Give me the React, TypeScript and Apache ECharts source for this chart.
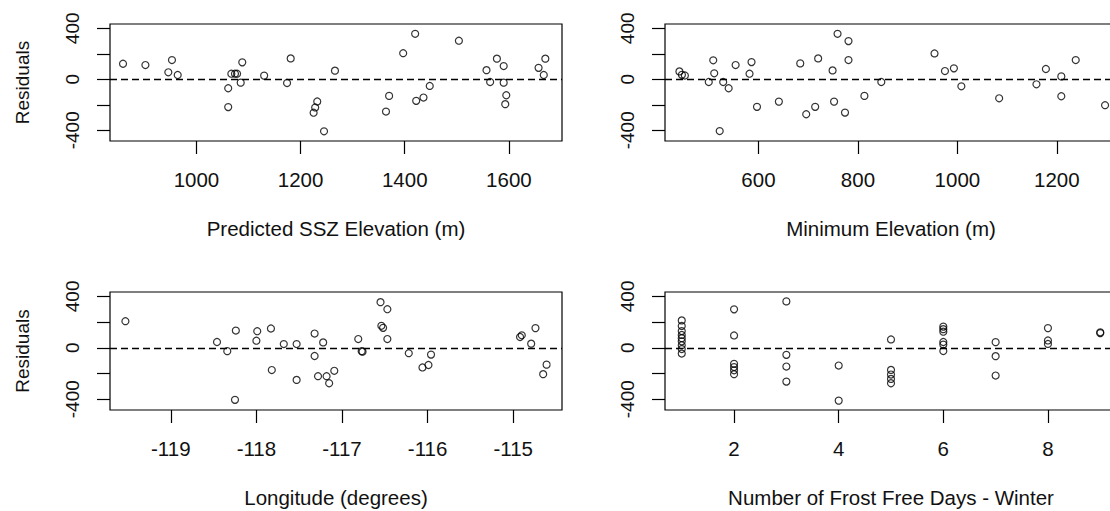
import React, { useEffect, useRef } from "react";
import * as echarts from "echarts";

// Panel 1: Predicted SSZ Elevation (m)
const predictedElevation = [859, 902, 953, 946, 964, 1061, 1061, 1067, 1074, 1078, 1085, 1088, 1130, 1174, 1181, 1266, 1232, 1228, 1225, 1245, 1364, 1370, 1397, 1420, 1422, 1436, 1448, 1504, 1557, 1564, 1577, 1590, 1590, 1595, 1593, 1657, 1670, 1667];
const residualsP1 = [122, 112, 151, 55, 34, -70, -218, 44, 44, 44, -26, 133, 29, -29, 164, 68, -174, -221, -262, -408, -253, -130, 205, 357, -169, -143, -52, 303, 72, -21, 162, 104, -26, -125, -195, 90, 162, 34];

// Panel 2: Minimum Elevation (m)
const minimumElevation = [441, 446, 452, 500, 509, 511, 529, 540, 522, 554, 582, 586, 597, 641, 684, 696, 714, 720, 749, 752, 759, 774, 781, 781, 813, 847, 954, 975, 993, 1008, 1084, 1159, 1178, 1209, 1209, 1238, 1297];
const residualsP2 = [62, 35, 30, -21, 149, 47, -21, -70, -406, 112, 44, 135, -216, -175, 125, -274, -216, 164, 70, -175, 357, -261, 300, 151, -130, -21, 203, 65, 86, -55, -149, -39, 81, 23, -133, 151, -203];

// Panel 3: Longitude (degrees)
const longitude = [-119.53, -118.46, -118.34, -118.24, -118.25, -118.0, -117.99, -117.83, -117.82, -117.68, -117.53, -117.53, -117.32, -117.32, -117.22, -117.28, -117.18, -117.15, -117.09, -116.81, -116.77, -116.76, -116.55, -116.47, -116.54, -116.52, -116.47, -116.22, -116.06, -115.99, -115.96, -114.92, -114.9, -114.79, -114.74, -114.61, -114.65];
const residualsP3 = [207, 45, -26, 134, -405, 55, 129, 150, -173, 29, 29, -250, 111, -64, 42, -221, -221, -276, -179, 68, -26, -30, 355, 300, 171, 155, 68, -42, -153, -134, -53, 84, 97, 32, 153, -131, -205];

// Panel 4: Number of Frost Free Days - Winter
const frostFreeDays = [1, 1, 1, 1, 1, 1, 1, 1, 1, 2, 2, 2, 2, 2, 2, 3, 3, 3, 3, 4, 4, 5, 5, 5, 5, 5, 6, 6, 6, 6, 6, 6, 7, 7, 7, 8, 8, 8, 9, 9];
const residualsP4 = [213, 170, 130, 100, 75, 50, 20, -10, -45, 299, 96, -125, -150, -175, -205, 361, -55, -146, -263, -138, -411, 65, -172, -208, -242, -276, 165, 145, 125, 45, 25, -25, 44, -65, -216, 153, 57, 30, 114, 120];

const xTicksP1 = [1000, 1200, 1400, 1600];
const xTicksP2 = [600, 800, 1000, 1200];
const xTicksP3 = [-119, -118, -117, -116, -115];
const xTicksP4 = [2, 4, 6, 8];
const yTicks = [-400, -200, 0, 200, 400];
const yTickLabels = [-400, 0, 400];

const xTitles = ["Predicted SSZ Elevation (m)", "Minimum Elevation (m)", "Longitude (degrees)", "Number of Frost Free Days - Winter"];
const yTitle = "Residuals";

const FONT = 'Arial, "Liberation Sans", sans-serif';
const TEXT = "#111";

function zip(xs: number[], ys: number[]) {
  return xs.map((x, i) => [x, ys[i]]);
}

export default function App() {
  const ref = useRef<HTMLDivElement>(null);

  useEffect(() => {
    if (!ref.current) return;
    const chart = echarts.init(ref.current, undefined, { renderer: "svg" });

    const panels = [
      { left: 110, top: 24, height: 117, min: 834, max: 1702, ticks: xTicksP1, xs: predictedElevation, ys: residualsP1, yName: yTitle },
      { left: 665, top: 24, height: 117, min: 412, max: 1321, ticks: xTicksP2, xs: minimumElevation, ys: residualsP2, yName: "" },
      { left: 110, top: 292, height: 118, min: -119.71, max: -114.43, ticks: xTicksP3, xs: longitude, ys: residualsP3, yName: yTitle },
      { left: 665, top: 292, height: 118, min: 0.68, max: 9.32, ticks: xTicksP4, xs: frostFreeDays, ys: residualsP4, yName: "" },
    ];

    const hText = { fontSize: 20.5, color: TEXT, fontFamily: FONT };
    const vText = { fontSize: 19, color: TEXT, fontFamily: FONT };
    const fmt = (v: number) => String(v);

    const option: any = {
      animation: false,
      backgroundColor: "#fff",
      grid: panels.map((p) => ({
        left: p.left,
        top: p.top,
        width: 452,
        height: p.height,
        show: true,
        borderColor: "#000",
        borderWidth: 1.2,
        backgroundColor: "transparent",
      })),
      xAxis: panels.map((p, i) => ({
        gridIndex: i,
        type: "value",
        min: p.min,
        max: p.max,
        axisLine: { show: false, onZero: false },
        axisTick: { show: true, customValues: p.ticks, length: 13, lineStyle: { color: "#000", width: 1.2 } },
        axisLabel: { customValues: p.ticks, margin: 28, formatter: fmt, ...hText },
        splitLine: { show: false },
        name: xTitles[i],
        nameLocation: "middle",
        nameGap: 77,
        nameTextStyle: hText,
      })),
      yAxis: panels.map((p, i) => ({
        gridIndex: i,
        type: "value",
        min: -484,
        max: 434,
        axisLine: { show: false, onZero: false },
        axisTick: { show: true, customValues: yTicks, length: 13, lineStyle: { color: "#000", width: 1.2 } },
        axisLabel: { customValues: yTickLabels, rotate: 90, margin: 28, formatter: fmt, ...vText },
        splitLine: { show: false },
        name: p.yName,
        nameLocation: "middle",
        nameGap: 78,
        nameRotate: 90,
        nameTextStyle: vText,
      })),
      series: panels.map((p, i) => ({
        type: "scatter",
        xAxisIndex: i,
        yAxisIndex: i,
        data: zip(p.xs, p.ys),
        symbol: "circle",
        symbolSize: 7,
        itemStyle: { color: "rgba(0,0,0,0)", borderColor: "#000", borderWidth: 1.2 },
        emphasis: { disabled: true },
        silent: true,
        markLine: {
          silent: true,
          symbol: ["none", "none"],
          label: { show: false },
          lineStyle: { color: "#000", type: [7, 4], width: 1.3 },
          data: [{ yAxis: 0 }],
        },
      })),
    };

    chart.setOption(option);
    return () => chart.dispose();
  }, []);

  return (
    <div style={{ position: "absolute", left: 0, top: 0, width: 1110, height: 511, overflow: "hidden", background: "#fff" }}>
      <div ref={ref} style={{ width: 1125, height: 511 }} />
    </div>
  );
}
